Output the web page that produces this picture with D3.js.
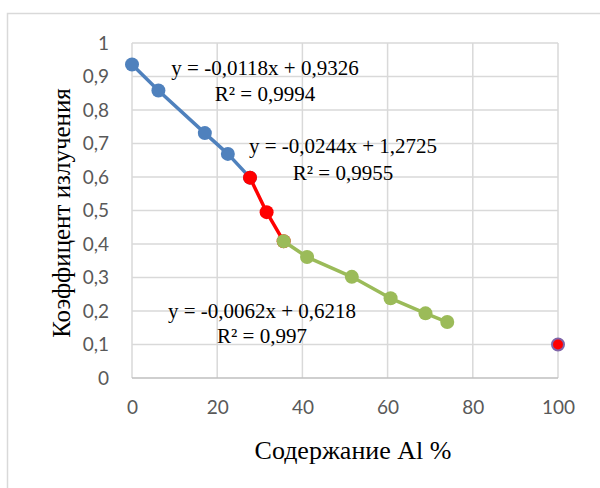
<!DOCTYPE html>
<html>
<head>
<meta charset="utf-8">
<script src="https://cdn.jsdelivr.net/npm/d3@7"></script>
<style>
  body { margin: 0; background: #fff; }
</style>
</head>
<body>
<div id="chart"></div>
<script>
// Chart data
const blueX = [0, 6.2, 17.1, 22.5, 27.7];
const blueY = [0.936, 0.858, 0.731, 0.669, 0.598];
const redX = [27.7, 31.6, 35.6];
const redY = [0.598, 0.495, 0.408];
const greenX = [35.6, 41.1, 51.6, 60.7, 68.9, 74.0];
const greenY = [0.408, 0.361, 0.302, 0.238, 0.193, 0.167];
const pointX = [100];
const pointY = [0.1];

const xTicks = [0, 20, 40, 60, 80, 100];
const yTicks = [0, 0.1, 0.2, 0.3, 0.4, 0.5, 0.6, 0.7, 0.8, 0.9, 1];

const trendLabels = [
  ["y = -0,0118x + 0,9326", "R² = 0,9994"],
  ["y = -0,0244x + 1,2725", "R² = 0,9955"],
  ["y = -0,0062x + 0,6218", "R² = 0,997"]
];

const xTitle = "Содержание Al %";
const yTitle = "Коэффицент излучения";

// Layout
const width = 600;
const height = 488;
const plot = { left: 132, right: 558, top: 43, bottom: 378 };

const svg = d3.select("#chart").append("svg")
  .attr("width", width)
  .attr("height", height);

// Outer chart border
svg.append("rect")
  .attr("x", 7.5)
  .attr("y", 13.5)
  .attr("width", 620)
  .attr("height", 500)
  .attr("fill", "none")
  .attr("stroke", "#d9d9d9")
  .attr("stroke-width", 1.5);

const x = d3.scaleLinear().domain([0, 100]).range([plot.left, plot.right]);
const y = d3.scaleLinear().domain([0, 1]).range([plot.bottom, plot.top]);

// Gridlines
svg.append("g")
  .selectAll("line.h")
  .data(yTicks.slice(1))
  .enter()
  .append("line")
  .attr("x1", plot.left)
  .attr("x2", plot.right)
  .attr("y1", d => y(d))
  .attr("y2", d => y(d))
  .attr("stroke", "#d9d9d9")
  .attr("stroke-width", 1.5);

svg.append("g")
  .selectAll("line.v")
  .data(xTicks)
  .enter()
  .append("line")
  .attr("x1", d => x(d))
  .attr("x2", d => x(d))
  .attr("y1", plot.top)
  .attr("y2", plot.bottom)
  .attr("stroke", "#d9d9d9")
  .attr("stroke-width", 1.5);

// Bottom axis line
svg.append("line")
  .attr("x1", plot.left)
  .attr("x2", plot.right)
  .attr("y1", y(0))
  .attr("y2", y(0))
  .attr("stroke", "#bfbfbf")
  .attr("stroke-width", 1.5);

// Axes (labels only, Excel style)
const fmt = d => String(d).replace(".", ",");

const xAxis = svg.append("g")
  .attr("transform", `translate(0,${plot.bottom})`)
  .call(d3.axisBottom(x).tickValues(xTicks).tickSize(0).tickPadding(23).tickFormat(fmt));

const yAxis = svg.append("g")
  .attr("transform", `translate(${plot.left},0)`)
  .call(d3.axisLeft(y).tickValues(yTicks).tickSize(0).tickPadding(23).tickFormat(fmt));

[xAxis, yAxis].forEach(g => {
  g.select(".domain").remove();
  g.selectAll("text")
    .attr("fill", "#595959")
    .attr("font-family", "Lato, 'Open Sans', sans-serif")
    .attr("font-size", "19px");
});

// Series
const line = d3.line().x(d => x(d[0])).y(d => y(d[1]));

function drawSeries(xs, ys, color) {
  const pts = xs.map((v, i) => [v, ys[i]]);
  svg.append("path")
    .datum(pts)
    .attr("d", line)
    .attr("fill", "none")
    .attr("stroke", color)
    .attr("stroke-width", 3.5)
    .attr("stroke-linejoin", "round");
  svg.append("g")
    .selectAll("circle")
    .data(pts)
    .enter()
    .append("circle")
    .attr("cx", d => x(d[0]))
    .attr("cy", d => y(d[1]))
    .attr("r", 7)
    .attr("fill", color);
}

drawSeries(blueX, blueY, "#4f81bd");
drawSeries(redX, redY, "#ff0000");
drawSeries(greenX, greenY, "#9bbb59");

svg.append("g")
  .selectAll("circle")
  .data(pointX.map((v, i) => [v, pointY[i]]))
  .enter()
  .append("circle")
  .attr("cx", d => x(d[0]))
  .attr("cy", d => y(d[1]))
  .attr("r", 6)
  .attr("fill", "#ff0000")
  .attr("stroke", "#7f64a8")
  .attr("stroke-width", 2);

// Trendline labels
const labelPos = [[265, 75, 101], [343, 153, 180], [262, 318, 343]];
trendLabels.forEach((lines, i) => {
  const [cx, y1, y2] = labelPos[i];
  [y1, y2].forEach((by, j) => {
    svg.append("text")
      .attr("x", cx)
      .attr("y", by)
      .attr("text-anchor", "middle")
      .attr("font-family", "'Liberation Serif', 'Times New Roman', serif")
      .attr("font-size", "21px")
      .attr("fill", "#000000")
      .text(lines[j]);
  });
});

// Axis titles
svg.append("text")
  .attr("x", 353)
  .attr("y", 459)
  .attr("text-anchor", "middle")
  .attr("font-family", "'Liberation Serif', 'Times New Roman', serif")
  .attr("font-size", "26px")
  .attr("fill", "#000000")
  .text(xTitle);

svg.append("text")
  .attr("transform", "translate(70,213) rotate(-90)")
  .attr("text-anchor", "middle")
  .attr("font-family", "'Liberation Serif', 'Times New Roman', serif")
  .attr("font-size", "25px")
  .attr("fill", "#000000")
  .text(yTitle);
</script>
</body>
</html>
